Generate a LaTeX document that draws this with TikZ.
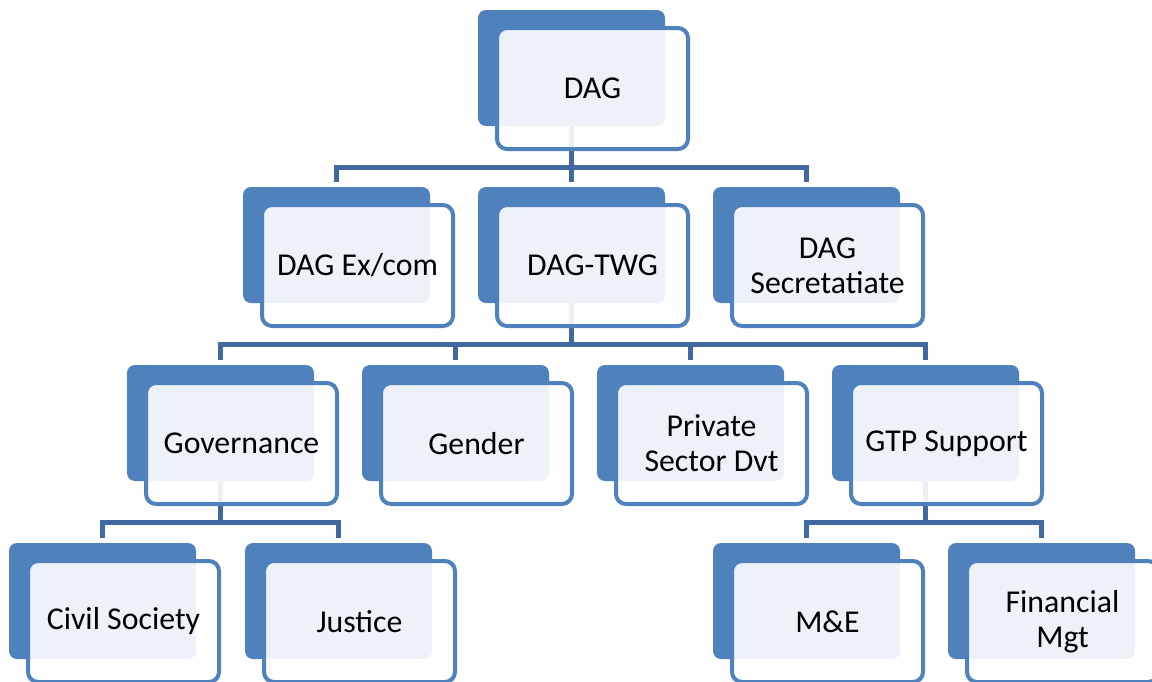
\documentclass[tikz,border=0pt]{standalone}
\usepackage{fontspec}
\setmainfont{Carlito}
\usetikzlibrary{backgrounds}
\definecolor{accent}{HTML}{4F81BD}
\definecolor{linkblue}{HTML}{41699F}
\tikzset{
  backbox/.style={fill=accent, draw=none, rounded corners=4pt,
    minimum width=93.5pt, minimum height=58pt, inner sep=0pt},
  frontbox/.style={draw=accent, line width=2pt, fill=white, fill opacity=0.9,
    text opacity=1, rounded corners=5pt, minimum width=95.5pt,
    minimum height=60.5pt, inner sep=0pt, align=center,
    font=\fontsize{15.9}{17.5}\selectfont},
  link/.style={draw=linkblue, line width=2.3pt},
}
% #1 name, #2 #3 top-left of the filled back card, #4 label
\newcommand\orgcard[4]{%
  \node[backbox] (#1-b) at (#2+93.5,#3+58) {};
  \node[frontbox] (#1) at (#2+114.5,#3+78.5) {#4};
}
% elbow connector from parent card to child card
\newcommand\orglink[2]{%
  \draw[link] (#1-b.south) -- ++(0,41) -| ([yshift=2.5pt]#2-b.north);
}
\begin{document}
\begin{tikzpicture}[x=0.5pt,y=-0.5pt]
  \useasboundingbox (0,0) rectangle (1152,681);
  \clip (0,0) rectangle (1152,681);
  % level 1
  \orgcard{dag}{478}{10}{DAG}
  % level 2
  \orgcard{excom}{243}{187}{DAG Ex/com}
  \orgcard{twg}{478}{187}{DAG-TWG}
  \orgcard{sec}{713}{187}{DAG\\Secretatiate}
  % level 3
  \orgcard{gov}{127}{365}{Governance}
  \orgcard{gender}{362}{365}{Gender}
  \orgcard{psd}{597}{365}{Private\\Sector Dvt}
  \orgcard{gtp}{832}{365}{GTP Support}
  % level 4
  \orgcard{civil}{9}{543}{Civil Society}
  \orgcard{justice}{245}{543}{Justice}
  \orgcard{me}{713}{543}{M\&E}
  \orgcard{fin}{948}{543}{Financial\\Mgt}
  \begin{scope}[on background layer]
    \orglink{dag}{excom}
    \orglink{dag}{twg}
    \orglink{dag}{sec}
    \orglink{twg}{gov}
    \orglink{twg}{gender}
    \orglink{twg}{psd}
    \orglink{twg}{gtp}
    \orglink{gov}{civil}
    \orglink{gov}{justice}
    \orglink{gtp}{me}
    \orglink{gtp}{fin}
  \end{scope}
\end{tikzpicture}
\end{document}
